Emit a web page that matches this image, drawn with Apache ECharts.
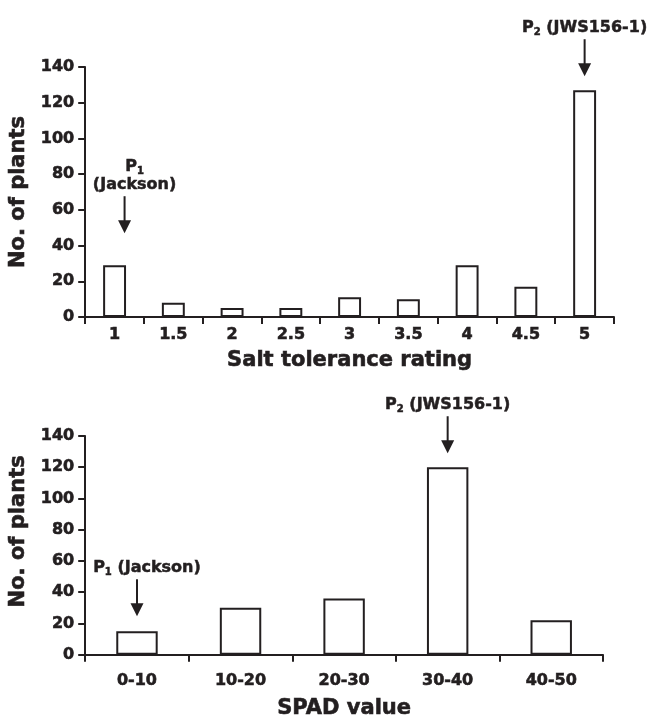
<!DOCTYPE html>
<html>
<head>
<meta charset="utf-8">
<script src="https://cdn.jsdelivr.net/npm/echarts@6/dist/echarts.min.js"></script>
<style>
  html, body { margin: 0; padding: 0; background: #ffffff; }
  #chart { width: 650px; height: 720px; }
</style>
</head>
<body>
<div id="chart"></div>
<script>
// ---- Data ----
var saltCategories = ['1', '1.5', '2', '2.5', '3', '3.5', '4', '4.5', '5'];
var saltCounts = [29, 8, 5, 5, 11, 10, 29, 17, 127];
var spadCategories = ['0-10', '10-20', '20-30', '30-40', '40-50'];
var spadCounts = [15, 30, 36, 120, 22];
var yMin = 0, yMax = 140, yStep = 20;
var saltXName = 'Salt tolerance rating';
var spadXName = 'SPAD value';
var yName = 'No. of plants';

var INK = '#231f20';
var FONT = 'DejaVu Sans';

function txt(size, extra) {
  var o = { fontFamily: FONT, fontWeight: 'bold', fontSize: size, color: INK,
            textBorderColor: INK, textBorderWidth: 0.6 };
  if (extra) { for (var k in extra) o[k] = extra[k]; }
  return o;
}

function yAxisCfg(gridIndex, nameShift) {
  return {
    gridIndex: gridIndex,
    type: 'value', min: yMin, max: yMax, interval: yStep,
    name: yName, nameLocation: 'middle', nameGap: 50,
    nameTextStyle: txt(21, { padding: nameShift ? [0, 0, 0, nameShift] : 0 }),
    axisLine: { show: true, lineStyle: { color: INK, width: 2 } },
    axisTick: { show: true, length: 7, lineStyle: { color: INK, width: 2 } },
    axisLabel: txt(16, { margin: 11 }),
    splitLine: { show: false }
  };
}
function xAxisCfg(gridIndex, cats, name, labelMargin, nameGap) {
  return {
    gridIndex: gridIndex,
    type: 'category', data: cats, boundaryGap: true,
    name: name, nameLocation: 'middle', nameGap: nameGap,
    nameTextStyle: txt(21),
    axisLine: { show: true, lineStyle: { color: INK, width: 2 } },
    axisTick: { show: true, length: 7, alignWithLabel: false, interval: 0, lineStyle: { color: INK, width: 2 } },
    axisLabel: txt(16, { interval: 0, margin: labelMargin }),
    splitLine: { show: false }
  };
}

var chart = echarts.init(document.getElementById('chart'), null, { renderer: 'canvas' });
chart.setOption({
  backgroundColor: '#ffffff',
  animation: false,
  grid: [
    { left: 85, right: 36, top: 67, height: 250 },
    { left: 85, right: 47, top: 436, height: 221 }
  ],
  xAxis: [
    xAxisCfg(0, saltCategories, saltXName, 10, 33),
    xAxisCfg(1, spadCategories, spadXName, 18, 43)
  ],
  yAxis: [
    yAxisCfg(0, 0),
    yAxisCfg(1, 28)
  ],
  series: [
    { type: 'bar', xAxisIndex: 0, yAxisIndex: 0, data: saltCounts, barWidth: '39%',
      itemStyle: { color: '#ffffff', borderColor: INK, borderWidth: 2 } },
    { type: 'bar', xAxisIndex: 1, yAxisIndex: 1, data: spadCounts, barWidth: '40%',
      itemStyle: { color: '#ffffff', borderColor: INK, borderWidth: 2 } }
  ]
});

// ---- Annotations (positioned from the library's scales) ----
var annotations = [
  { grid: 0, idx: 0, values: saltCounts, lines: ['{p|P}{s|1}', '{p|(Jackson)}'], gap: 32, dx: 10, tdx: 20 },
  { grid: 0, idx: 8, values: saltCounts, lines: ['{p|P}{s|2}{p| (JWS156-1)}'], gap: 14, dx: 0, tdx: 0 },
  { grid: 1, idx: 0, values: spadCounts, lines: ['{p|P}{s|1}{p| (Jackson)}'], gap: 15, dx: 0, tdx: 10 },
  { grid: 1, idx: 3, values: spadCounts, lines: ['{p|P}{s|2}{p| (JWS156-1)}'], gap: 14, dx: 0, tdx: 0 }
];
var rich = {
  p: { fontFamily: FONT, fontWeight: 'bold', fontSize: 16, lineHeight: 18, fill: INK },
  s: { fontFamily: FONT, fontWeight: 'bold', fontSize: 10, lineHeight: 10, verticalAlign: 'bottom', fill: INK }
};
var graphics = [];
annotations.forEach(function (a) {
  var pt = chart.convertToPixel({ xAxisIndex: a.grid, yAxisIndex: a.grid }, [a.idx, a.values[a.idx]]);
  var x = pt[0] + a.dx;
  var tip = pt[1] - a.gap;
  var top = tip - 37;
  graphics.push({ type: 'line', silent: true,
    shape: { x1: x, y1: top, x2: x, y2: tip - 10 },
    style: { stroke: INK, lineWidth: 2 } });
  graphics.push({ type: 'polygon', silent: true,
    shape: { points: [[x - 6.5, tip - 13], [x + 6.5, tip - 13], [x, tip]] },
    style: { fill: INK } });
  var n = a.lines.length;
  a.lines.forEach(function (ln, i) {
    graphics.push({ type: 'text', silent: true,
      x: pt[0] + a.tdx, y: top - 11 - (n - 1 - i) * 18,
      style: { text: ln, rich: rich, align: 'center', verticalAlign: 'middle', fill: INK,
               stroke: INK, lineWidth: 0.5 } });
  });
});
chart.setOption({ graphic: graphics });
</script>
</body>
</html>
